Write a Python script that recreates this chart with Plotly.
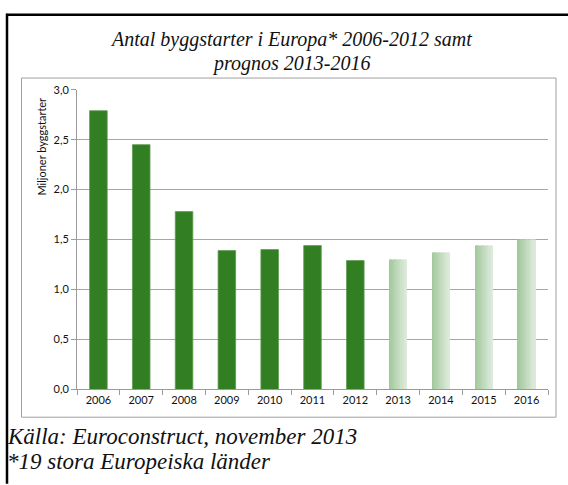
import plotly.graph_objects as go

W, H = 568, 485

years = ["2006", "2007", "2008", "2009", "2010", "2011", "2012", "2013", "2014", "2015", "2016"]
actual_years = years[:7]
actual_values = [2.79, 2.45, 1.78, 1.39, 1.40, 1.44, 1.29]
forecast_years = years[7:]
forecast_values = [1.30, 1.37, 1.44, 1.50]
y_ticks = [0.0, 0.5, 1.0, 1.5, 2.0, 2.5, 3.0]
y_ticklabels = ["0,0", "0,5", "1,0", "1,5", "2,0", "2,5", "3,0"]

title_lines = ["Antal byggstarter i Europa* 2006-2012 samt", "prognos 2013-2016"]
ytitle_text = "Miljoner byggstarter"
footer1 = "Källa: Euroconstruct, november 2013"
footer2 = "*19 stora Europeiska länder"

SERIF = "Liberation Serif"
SANS = "Lato"


def px(x):
    return x / W


def py(y):
    return 1 - y / H


BW = 0.41
fig = go.Figure()
fig.add_trace(go.Bar(
    x=actual_years, y=actual_values, width=BW,
    marker=dict(color="#327e22", line=dict(color="#5e9c4e", width=0.8)),
    hoverinfo="x+y", showlegend=False,
))

# horizontal gradient for forecast bars via thin strips
N = 14
c0 = (0xa2, 0xc8, 0x9c)
c1 = (0xdd, 0xea, 0xdb)
for i in range(N):
    t = i / (N - 1)
    col = "rgb(%d,%d,%d)" % tuple(round(a + (b - a) * t) for a, b in zip(c0, c1))
    fig.add_trace(go.Bar(
        x=forecast_years, y=forecast_values,
        width=BW / N * 1.08, offset=-BW / 2 + i * BW / N,
        marker=dict(color=col, line=dict(width=0)),
        hoverinfo="skip" if i else "x+y", showlegend=False,
    ))

title_font = dict(family=SERIF, size=20, color="#111")
footer_font = dict(family=SERIF, size=23, color="#111")

fig.update_layout(
    width=W, height=H,
    margin=dict(l=0, r=0, t=0, b=0),
    paper_bgcolor="white", plot_bgcolor="white",
    barmode="overlay",
    font=dict(family=SANS, size=11, color="#222"),
    xaxis=dict(
        domain=[px(77), px(548)],
        type="category", categoryorder="array", categoryarray=years,
        showline=True, linecolor="#9a9a9a", linewidth=1,
        ticks="outside", ticklen=5, tickcolor="#9a9a9a", tickson="boundaries",
        showgrid=False, tickfont=dict(size=11, color="#111"),
    ),
    yaxis=dict(
        domain=[py(393), py(85)],
        range=[0, 3.0],
        tickvals=y_ticks, ticktext=y_ticklabels,
        showline=True, linecolor="#9a9a9a", linewidth=1,
        ticks="outside", ticklen=5, tickcolor="#9a9a9a",
        showgrid=True, gridcolor="#a6a6a6", gridwidth=1,
        zeroline=False, tickfont=dict(size=11, color="#111"),
    ),
    shapes=[
        dict(type="line", xref="paper", yref="paper", x0=px(6), x1=px(570), y0=py(8), y1=py(8),
             line=dict(color="black", width=2.5)),
        dict(type="line", xref="paper", yref="paper", x0=px(7), x1=px(7), y0=py(7), y1=py(490),
             line=dict(color="black", width=2.5)),
        dict(type="rect", xref="paper", yref="paper", x0=px(21.5), x1=px(556), y0=py(73), y1=py(421.5),
             line=dict(color="#a0a0a0", width=1), layer="below"),
    ],
    annotations=[
        dict(text="<i>" + title_lines[0] + "</i>", xref="paper", yref="paper", x=px(291), y=py(33),
             xanchor="center", yanchor="middle", showarrow=False, font=title_font),
        dict(text="<i>" + title_lines[1] + "</i>", xref="paper", yref="paper", x=px(291), y=py(58),
             xanchor="center", yanchor="middle", showarrow=False, font=title_font),
        dict(text=ytitle_text, xref="paper", yref="paper", x=px(42), y=py(91), xanchor="center", yanchor="top",
             textangle=-90, showarrow=False, font=dict(family=SANS, size=11, color="#111")),
        dict(text="<i>" + footer1 + "</i>", xref="paper", yref="paper", x=px(5), y=py(441), xanchor="left",
             yanchor="middle", showarrow=False, font=footer_font),
        dict(text="<i>" + footer2 + "</i>", xref="paper", yref="paper", x=px(5), y=py(467), xanchor="left",
             yanchor="middle", showarrow=False, font=footer_font),
    ],
)

fig.write_html("out.html", config={"displayModeBar": False},
               post_script="document.body.style.margin='0';")
